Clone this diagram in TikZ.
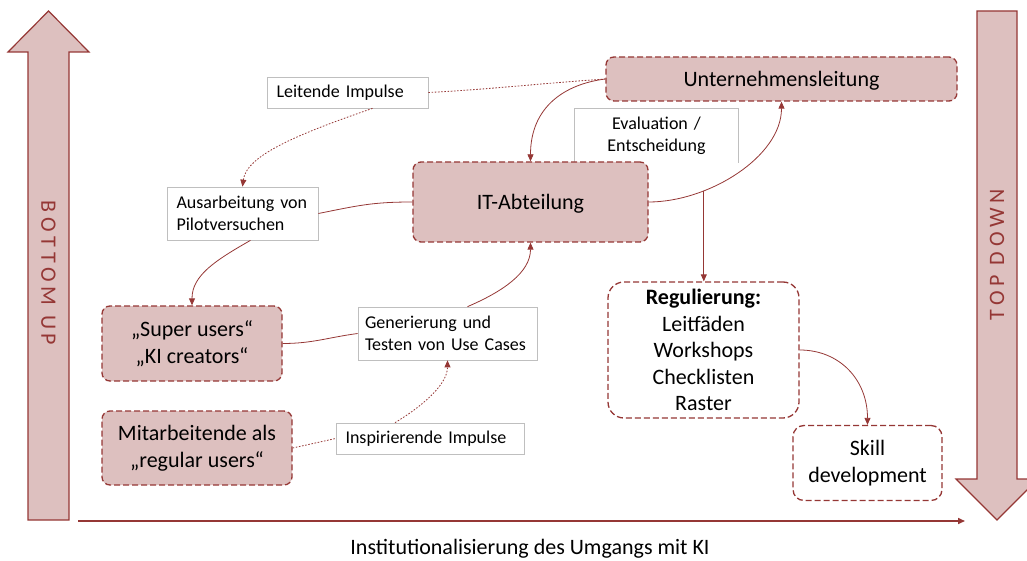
\documentclass[tikz,border=0pt]{standalone}
\usepackage{fontspec}
\setmainfont{Carlito}
\usetikzlibrary{arrows.meta,calc}
\definecolor{kired}{RGB}{149,55,53}
\definecolor{kifill}{RGB}{221,192,191}
\definecolor{kigray}{RGB}{191,191,191}
\begin{document}
\begin{tikzpicture}[x=1pt,y=-1pt,
    bigfont/.style={font=\fontsize{22}{26.5}\selectfont},
    smallfont/.style={font=\fontsize{18}{22}\selectfont},
    actor/.style={bigfont,draw=kired,fill=kifill,line width=1.3pt,dash pattern=on 6pt off 3pt,rounded corners=8pt,align=center,inner sep=0pt},
    rulebox/.style={actor,fill=white},
    labelbox/.style={smallfont,draw=kigray,fill=white,line width=0.7pt,align=left,inner xsep=9.5pt,inner ysep=0pt},
    arrowtext/.style={font=\fontsize{22}{26}\selectfont\addfontfeature{LetterSpace=22},text=kired},
    bigarrow/.style={draw=kired,fill=kifill,line width=1.2pt,line join=miter},
    flow/.style={draw=kired,line width=0.8pt},
    impulse/.style={flow,dash pattern=on 1.6pt off 1.6pt},
    ahead/.style={-{Triangle[length=7pt,width=6pt]}}]
    \useasboundingbox (0,0) rectangle (1027,561);
    \draw[bigarrow] (28,520) -- (28,52) -- (8,52) -- (48.5,11) -- (89,52) -- (69,52) -- (69,520) -- cycle;
    \draw[bigarrow] (977,11) -- (1017,11) -- (1017,479) -- (1038,479) -- (997,520) -- (956,479) -- (977,479) -- cycle;
    \node[arrowtext,rotate=-90] (bottomup) at (48.5,273) {BOTTOM UP};
    \node[arrowtext,rotate=90] (topdown) at (997,255) {TOP DOWN};
    \coordinate (axstart) at (78,521);
    \coordinate (axend) at (965,521);
    \draw[flow,line width=1.5pt,ahead] (axstart) -- (axend);
    \node[bigfont] (axis) at (530,549) {Institutionalisierung des Umgangs mit KI};
    \node[labelbox,draw=none,align=center,text width=144pt,minimum height=54pt] (eval) at (656.5,136) {Evaluation /\\Entscheidung};
    \draw[kigray,line width=0.7pt] (eval.south west) |- (eval.north east) -- (eval.south east);
    \node[actor,text depth=0pt,minimum width=351pt,minimum height=44pt] (ul) at (781.5,79) {Unternehmensleitung};
    \node[actor,text depth=0pt,minimum width=235pt,minimum height=80pt] (it) at (530.5,202) {IT-Abteilung};
    \node[labelbox,text width=142pt,minimum height=31pt] (leit) at (347.5,92.5) {Leitende Impulse};
    \node[labelbox,text width=132pt,minimum height=53pt] (ausarb) at (242.5,213.5) {Ausarbeitung von\\Pilotversuchen};
    \node[actor,minimum width=180pt,minimum height=75pt] (super) at (192,343.5) {„Super users“\\„KI creators“};
    \node[labelbox,inner xsep=7pt,text width=165pt,minimum height=53pt] (gen) at (447.5,333.5) {Generierung und\\Testen von Use Cases};
    \node[actor,minimum width=190pt,minimum height=74pt] (mit) at (197,448) {Mitarbeitende als\\„regular users“};
    \node[labelbox,text width=169pt,minimum height=31pt] (insp) at (430,438.5) {Inspirierende Impulse};
    \node[rulebox,rounded corners=16pt,minimum width=191pt,minimum height=136pt] (reg) at (703.5,350) {\textbf{Regulierung:}\\Leitfäden\\Workshops\\Checklisten\\Raster};
    \node[rulebox,rounded corners=11pt,minimum width=149pt,minimum height=75pt] (skill) at (867.5,463) {Skill\\development};
    \draw[flow,ahead] (ul.west) .. controls +(-40,5) and +(0,-55) .. (it.north);
    \draw[impulse] (leit.east) .. controls +(60,-3) and +(-60,4) .. (ul.west);
    \draw[impulse,ahead] ($(leit.south)+(25,0)$) .. controls +(-72,25) and +(4,-32) .. (ausarb.north);
    \draw[flow] (it.west) .. controls +(-40,0) and +(40,-8) .. (ausarb.east);
    \draw[flow,ahead] ($(ausarb.south)+(8,0)$) .. controls +(-35,20) and +(0,-30) .. (super.north);
    \draw[flow] (super.east) .. controls +(30,0) and +(-30,4) .. (gen.west);
    \draw[flow,ahead] ($(gen.north)+(20,0)$) .. controls +(35,-15) and +(0,30) .. (it.south);
    \draw[impulse] (mit.east) -- (insp.west);
    \draw[impulse,ahead] ($(insp.north)+(-35,0)$) .. controls +(25,-15) and +(0,25) .. (gen.south);
    \draw[flow,ahead] (it.east) .. controls +(60,0) and +(0,55) .. (ul.south) coordinate[pos=0.3] (split);
    \draw[flow,ahead] (split) -- (split |- reg.north);
    \draw[flow,ahead] (reg.east) .. controls +(40,0) and +(0,-45) .. (skill.north);
\end{tikzpicture}
\end{document}
